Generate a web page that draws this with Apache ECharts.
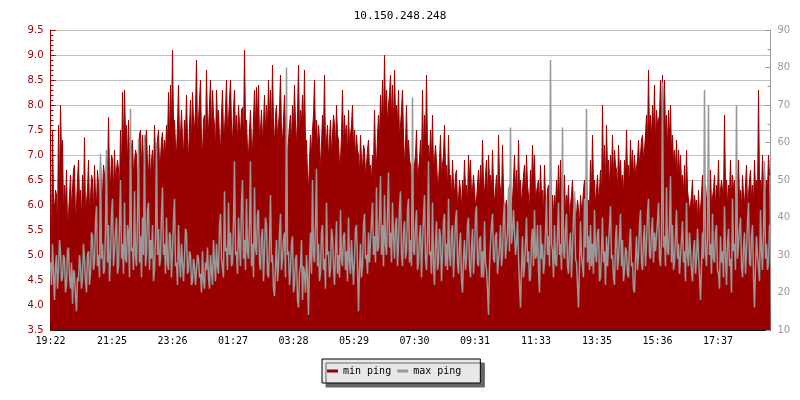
<!DOCTYPE html>
<html>
<head>
<meta charset="utf-8">
<script src="https://cdn.jsdelivr.net/npm/echarts@6/dist/echarts.min.js"></script>
<style>html,body{margin:0;padding:0;background:#fff;}#c{width:800px;height:400px;}</style>
</head>
<body>
<div id="c"></div>
<script>
const chartTitle = '10.150.248.248';
const seriesNames = ['min ping', 'max ping'];
const tickLabels = ['19:22','21:25','23:26','01:27','03:28','05:29','07:30','09:31','11:33','13:35','15:36','17:37'];
const tickMinutes = [0,123,244,365,486,607,728,849,971,1093,1214,1335];
const sampleMinutes = 2;
const totalMinutes = 1440;

// min ping (ms, left axis), one value per 2 minutes
const minPing = [
6.4,5.2,7.5,6.1,5.9,6.3,6.2,5.5,7.6,6.2,8.0,7.0,7.3,5.8,6.4,6.0,6.7,5.6,5.8,6.2,6.6,5.9,6.3,6.7,6.8,5.7,6.0,6.5,6.9,6.1,6.3,5.7,6.6,6.0,7.35,5.8,
5.8,6.3,6.9,5.9,6.1,6.6,6.5,5.8,6.8,6.2,6.0,6.7,6.4,5.9,6.9,6.3,6.2,6.8,6.6,6.1,7.0,6.4,7.75,6.6,6.4,7.0,6.9,6.2,7.1,6.5,6.5,6.9,6.7,6.3,7.5,6.6,
8.25,7.1,8.3,7.4,7.6,6.8,7.7,7.0,6.5,7.2,7.3,6.6,6.6,7.1,7.0,6.3,6.9,7.4,7.5,6.7,7.4,6.9,6.8,7.3,7.5,6.8,6.6,7.2,6.5,6.9,7.1,6.5,7.6,7.0,6.9,7.3,
7.5,6.8,6.9,7.3,7.45,6.9,7.3,7.0,7.6,7.2,8.25,7.3,8.4,7.5,9.1,7.6,7.7,7.2,7.0,7.6,8.4,7.3,7.4,7.9,7.3,7.0,7.7,7.4,8.2,7.3,6.9,7.6,8.1,7.2,8.25,7.7,
7.5,7.9,8.9,7.4,7.7,8.1,8.5,7.3,7.0,7.7,7.8,7.2,8.7,7.6,7.5,8.0,8.5,7.4,8.3,7.8,7.6,7.1,8.3,7.7,7.9,7.3,7.1,7.8,8.3,7.4,7.5,7.9,8.5,7.5,7.7,8.1,
8.5,7.6,7.2,7.9,8.3,7.4,7.8,7.2,8.0,7.6,7.4,7.9,7.95,7.3,9.1,7.6,7.7,7.1,7.0,7.5,7.9,7.2,7.1,7.7,8.3,7.5,8.35,7.7,8.4,7.3,7.5,7.9,7.3,7.6,8.2,7.4,
8.0,7.5,8.5,7.7,8.3,7.4,8.8,7.6,7.2,7.8,8.0,7.3,7.6,7.9,8.6,7.4,7.3,7.7,8.2,7.5,7.5,7.0,7.0,7.6,7.8,7.2,8.0,7.5,8.4,7.6,7.2,7.8,8.8,7.4,7.9,7.6,
8.2,7.5,8.7,7.2,7.3,6.6,6.3,6.9,7.4,7.0,7.5,7.8,8.5,7.3,7.7,7.1,7.6,7.3,6.7,7.2,7.8,7.4,8.6,7.1,7.3,7.6,6.9,7.3,7.7,7.0,7.4,7.8,7.6,7.1,8.0,7.4,
7.3,6.8,6.9,7.4,8.3,7.1,7.8,7.3,7.6,7.0,7.9,7.2,7.2,7.6,8.0,7.1,7.5,6.9,7.4,7.1,7.0,6.6,7.4,6.9,6.7,7.2,7.1,6.6,6.8,7.1,7.3,6.7,6.8,6.5,7.0,6.7,
7.9,7.0,6.8,7.4,7.8,7.3,8.2,7.6,8.5,7.5,9.0,7.8,8.3,7.6,8.0,8.2,8.6,7.7,8.4,7.5,8.7,7.8,8.0,7.6,8.3,7.3,7.6,7.9,8.3,7.4,6.8,7.2,8.0,7.0,7.3,6.9,
6.8,6.4,6.9,6.6,6.6,7.0,7.5,6.5,6.5,6.9,7.3,6.7,8.3,7.0,7.8,7.2,8.6,7.1,7.2,6.8,7.5,6.9,7.8,6.7,6.9,7.2,7.2,6.5,6.4,6.9,7.4,6.6,6.8,7.0,7.6,6.7,
6.8,6.3,7.4,6.5,6.6,6.1,6.9,6.4,6.2,6.6,6.7,6.0,6.1,6.5,6.3,5.9,6.5,6.2,6.9,6.3,6.4,6.0,7.0,6.5,6.9,6.2,6.3,6.6,6.6,6.0,6.1,6.4,6.7,6.2,6.8,6.3,
7.3,6.4,6.2,6.6,6.9,6.1,7.0,6.5,6.6,6.2,7.1,6.4,6.0,6.3,6.6,5.9,7.4,6.5,6.5,6.1,7.2,6.3,5.6,6.0,6.1,5.8,6.0,6.4,6.4,5.9,6.1,6.5,7.0,6.2,6.7,6.0,
7.3,6.3,6.5,6.0,6.3,6.6,6.8,6.2,7.0,6.4,6.2,5.9,6.7,6.3,7.2,6.5,7.0,6.1,6.1,6.4,6.5,6.0,6.8,6.2,6.3,5.8,6.8,6.1,5.9,6.3,6.4,5.9,6.7,6.1,6.2,5.8,
6.2,5.9,6.5,6.1,6.8,6.0,6.9,6.3,5.9,6.2,6.6,5.8,6.2,6.0,6.4,5.7,6.0,6.2,6.5,5.9,6.2,5.7,5.8,6.1,5.9,5.6,6.2,5.9,6.0,6.3,6.5,5.8,6.6,6.0,6.1,5.9,
6.9,6.2,7.4,6.4,6.5,6.0,6.3,6.6,6.1,6.3,6.7,6.1,8.0,6.5,7.2,6.4,7.6,6.7,6.9,6.3,7.0,6.6,7.4,6.5,7.1,6.8,6.7,6.3,7.2,6.6,6.9,6.4,6.6,6.2,6.9,6.5,
7.5,6.6,6.8,6.4,7.3,6.7,7.1,6.5,7.0,6.6,6.6,6.9,7.3,6.8,7.0,7.3,7.4,6.9,7.1,7.4,7.8,7.2,8.7,7.4,7.8,7.3,8.0,7.5,8.4,7.2,7.9,7.6,7.6,7.8,8.5,7.5,
8.6,7.6,8.5,7.4,7.8,7.1,7.9,7.3,8.0,7.0,7.4,6.8,7.1,6.7,7.3,6.5,7.1,6.6,7.0,6.4,6.6,6.2,6.8,6.1,7.1,6.3,6.3,5.9,6.0,6.2,6.5,5.8,6.2,6.0,6.1,5.7,
6.3,5.8,5.9,6.2,6.6,5.9,6.1,6.4,6.4,5.8,6.4,6.1,6.7,6.0,6.0,6.3,6.6,5.9,6.4,6.2,6.9,6.0,6.3,6.5,6.5,6.1,7.8,6.3,6.5,6.0,6.4,6.2,6.9,6.1,6.6,6.3,
6.5,6.0,6.1,6.4,6.9,6.1,6.3,5.9,6.6,6.2,6.0,6.4,6.8,6.0,6.2,6.5,6.7,6.1,6.4,6.0,6.9,6.3,6.5,6.1,8.3,6.4,6.5,6.2,7.0,6.4,6.7,6.1,6.5,6.3,7.0,6.6
];

// max ping (ms, right axis), one value per 2 minutes
const maxPing = [
28,22,33,25,18,27,30,21,26,34,31,23,24,30,29,20,22,31,32,24,21,28,17,26,25,19,15,24,23,30,27,21,24,33,29,23,
20,30,31,22,25,36,35,26,28,39,43,27,30,24,57,29,33,25,26,37,58,28,38,23,29,41,45,27,31,36,40,25,27,38,50,29,
33,25,44,29,28,38,36,24,69,31,32,26,47,30,27,40,61,28,35,24,40,30,62,27,30,42,44,26,34,29,38,23,26,35,60,30,
37,27,29,41,48,30,33,25,40,28,26,36,35,24,31,39,45,27,28,22,38,29,24,33,33,23,29,37,36,25,26,31,30,22,23,29,
27,22,22,30,29,24,25,20,31,23,21,28,26,32,24,21,30,26,22,34,28,23,33,27,25,38,41,29,29,24,47,31,32,26,44,30,
36,27,28,39,55,30,31,25,40,33,27,44,50,29,34,26,45,31,29,38,55,27,33,24,48,32,30,41,42,28,26,35,37,23,31,40,
38,25,24,33,46,28,30,21,19,27,34,23,27,36,41,26,29,34,36,24,80,30,31,22,26,33,35,20,22,29,30,18,16,25,27,34,
18,27,25,20,30,24,14,28,36,25,50,30,28,38,53,27,33,23,25,36,38,26,29,21,44,30,31,24,26,37,35,27,22,31,39,25,
30,24,42,29,27,35,36,26,31,23,40,28,25,34,34,22,29,37,38,27,15,26,33,24,27,38,41,29,30,25,36,28,28,39,44,30,
35,28,48,31,32,40,51,30,38,27,46,33,30,41,52,32,36,28,44,35,29,38,40,27,33,43,47,30,27,36,39,29,31,42,45,28,
34,27,72,31,30,38,42,26,28,35,38,24,33,40,46,29,26,34,55,30,31,25,44,28,22,33,39,26,28,37,35,23,30,39,41,27,
33,26,45,30,27,36,38,24,31,39,42,28,25,33,36,23,20,29,34,26,29,38,40,27,24,32,37,25,30,41,43,28,27,34,35,24,
31,24,39,28,26,21,14,27,33,38,41,29,28,35,36,25,25,32,38,27,30,40,44,29,29,36,48,31,64,33,36,42,42,30,33,39,
29,22,16,26,35,24,27,33,40,28,31,23,24,34,37,27,42,29,30,38,26,20,38,29,33,25,28,36,45,30,35,27,82,33,31,24,
38,28,27,35,44,30,33,26,64,31,29,37,41,27,25,33,36,24,32,40,47,29,28,22,16,27,39,30,30,24,45,32,69,28,35,26,
38,27,33,25,42,30,28,36,37,23,24,31,40,28,31,22,35,27,27,38,43,29,30,24,22,34,38,26,29,35,41,27,34,23,26,32,
31,25,24,33,37,27,28,21,20,29,35,26,30,38,42,28,26,34,38,27,33,41,45,30,29,36,40,28,36,31,31,39,44,29,27,35,
76,32,35,27,48,31,30,38,51,28,38,26,28,35,42,29,33,25,25,34,39,28,31,23,44,30,27,36,36,26,23,31,34,25,29,37,
30,24,18,27,36,29,74,31,27,35,70,30,33,25,41,29,28,36,38,26,25,21,35,28,31,24,43,30,22,33,37,27,29,20,45,31,
33,26,70,29,29,37,40,27,24,32,36,25,31,39,44,28,27,35,38,24,16,27,35,30,30,23,42,31,26,36,55,29,33,26,28,38
];

function toPairs(arr) {
  const out = arr.map((v, i) => [i * sampleMinutes, v]);
  out.push([totalMinutes, arr[arr.length - 1]]);
  return out;
}

const mono = 'DejaVu Sans Mono';
const chart = echarts.init(document.getElementById('c'), null, {renderer: 'canvas'});
chart.setOption({
  animation: false,
  backgroundColor: '#ffffff',
  title: {
    text: chartTitle, left: 'center', top: 6,
    textStyle: {fontFamily: mono, fontSize: 11, fontWeight: 'normal', color: '#000'}
  },
  legend: {
    left: 322, top: 359,
    padding: [6, 19, 6, 5],
    itemGap: 6,
    itemWidth: 11, itemHeight: 3,
    selectedMode: false,
    backgroundColor: '#e8e8e8',
    borderColor: '#000', borderWidth: 1,
    shadowColor: '#666', shadowBlur: 0, shadowOffsetX: 4, shadowOffsetY: 4,
    textStyle: {fontFamily: mono, fontSize: 10, color: '#000', lineHeight: 12},
    data: [
      {name: seriesNames[0], icon: 'rect', itemStyle: {color: '#990000'}},
      {name: seriesNames[1], icon: 'rect', itemStyle: {color: '#999999'}}
    ]
  },
  grid: {left: 50.5, right: 29.5, top: 30, bottom: 70},
  xAxis: {
    type: 'value', min: 0, max: totalMinutes,
    axisLine: {show: true, lineStyle: {color: '#000'}},
    axisTick: {show: true, inside: true, length: 5, customValues: tickMinutes, lineStyle: {color: '#000'}},
    axisLabel: {
      customValues: tickMinutes,
      formatter: v => tickLabels[tickMinutes.indexOf(v)] || '',
      fontFamily: mono, fontSize: 10, color: '#000', margin: 6
    },
    splitLine: {show: false}
  },
  yAxis: [
    {
      type: 'value', min: 3.5, max: 9.5, interval: 0.5, position: 'left',
      axisLine: {show: true, lineStyle: {color: '#990000'}},
      axisTick: {show: true, inside: true, length: 5, lineStyle: {color: '#990000'}},
      minorTick: {show: true, splitNumber: 5, length: 3, lineStyle: {color: '#990000'}},
      axisLabel: {color: '#990000', fontFamily: 'DejaVu Sans', fontSize: 10, margin: 7, formatter: v => v.toFixed(1)},
      splitLine: {show: true, lineStyle: {color: '#c0c0c0', width: 1}}
    },
    {
      type: 'value', min: 10, max: 90, interval: 10, position: 'right',
      axisLine: {show: true, lineStyle: {color: '#999999'}},
      axisTick: {show: true, inside: true, length: 5, lineStyle: {color: '#999999'}},
      minorTick: {show: true, splitNumber: 2, length: 3, lineStyle: {color: '#999999'}},
      axisLabel: {color: '#999999', fontFamily: 'DejaVu Sans', fontSize: 10, margin: 7},
      splitLine: {show: false}
    }
  ],
  series: [
    {
      name: seriesNames[0], type: 'line', yAxisIndex: 0, step: 'end', symbol: 'none',
      data: toPairs(minPing),
      lineStyle: {width: 1, color: '#990000'},
      itemStyle: {color: '#990000'},
      areaStyle: {color: '#990000', opacity: 1, origin: 'start'},
      z: 2
    },
    {
      name: seriesNames[1], type: 'line', yAxisIndex: 1, step: 'end', symbol: 'none',
      data: toPairs(maxPing),
      lineStyle: {width: 1.5, color: '#999999'},
      itemStyle: {color: '#999999'},
      z: 3
    }
  ]
});
</script>
</body>
</html>
